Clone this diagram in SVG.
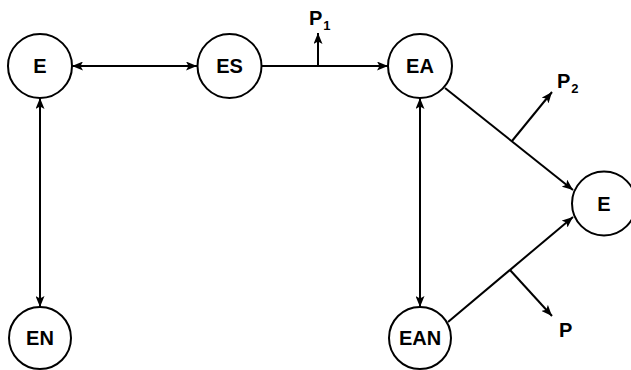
<svg xmlns="http://www.w3.org/2000/svg" width="631" height="370" viewBox="0 0 631 370">
<defs>
<marker id="ah" viewBox="0 0 11 9" refX="11" refY="4.5" markerWidth="11" markerHeight="9" markerUnits="userSpaceOnUse" orient="auto-start-reverse">
<path d="M0,0 L11,4.5 L0,9 L2.5,4.5 Z" fill="#000"/>
</marker>
</defs>
<style>
.n circle{fill:#fff;stroke:#000;stroke-width:2}
text{font-family:"Liberation Sans",Arial,sans-serif;font-weight:bold;font-size:20px;fill:#000}
.n text{text-anchor:middle}
.c line{stroke:#000;stroke-width:2;fill:none}
.sub{font-size:13px}
</style>
<rect width="631" height="370" fill="#fff"/>
<g id="connectors" class="c">
<line x1="72" y1="66" x2="197" y2="66" marker-start="url(#ah)" marker-end="url(#ah)"/>
<line x1="262" y1="66" x2="388" y2="66" marker-end="url(#ah)"/>
<line x1="318" y1="66" x2="318" y2="33" marker-end="url(#ah)"/>
<line x1="40" y1="98" x2="40" y2="307" marker-start="url(#ah)" marker-end="url(#ah)"/>
<line x1="420" y1="98" x2="420" y2="307" marker-start="url(#ah)" marker-end="url(#ah)"/>
<line x1="445" y1="88" x2="573" y2="190" marker-end="url(#ah)"/>
<line x1="512" y1="141" x2="552" y2="92" marker-end="url(#ah)"/>
<line x1="448" y1="322" x2="573" y2="217" marker-end="url(#ah)"/>
<line x1="510" y1="270" x2="552" y2="316" marker-end="url(#ah)"/>
</g>
<g id="labels">
<text x="309" y="25">P<tspan class="sub" dx="1" dy="5">1</tspan></text>
<text x="557" y="88">P<tspan class="sub" dx="1" dy="5">2</tspan></text>
<text x="559" y="337">P</text>
</g>
<g id="node-E1" class="n"><circle cx="40" cy="66" r="32"/><text x="40" y="73">E</text></g>
<g id="node-ES" class="n"><circle cx="229.5" cy="66" r="32"/><text x="229.5" y="73">ES</text></g>
<g id="node-EA" class="n"><circle cx="420" cy="66" r="32"/><text x="420" y="73">EA</text></g>
<g id="node-E2" class="n"><circle cx="604" cy="203.5" r="32"/><text x="604" y="210.5">E</text></g>
<g id="node-EN" class="n"><circle cx="40" cy="338" r="31"/><text x="40" y="345">EN</text></g>
<g id="node-EAN" class="n"><circle cx="420" cy="338" r="31"/><text x="420" y="345">EAN</text></g>
</svg>
